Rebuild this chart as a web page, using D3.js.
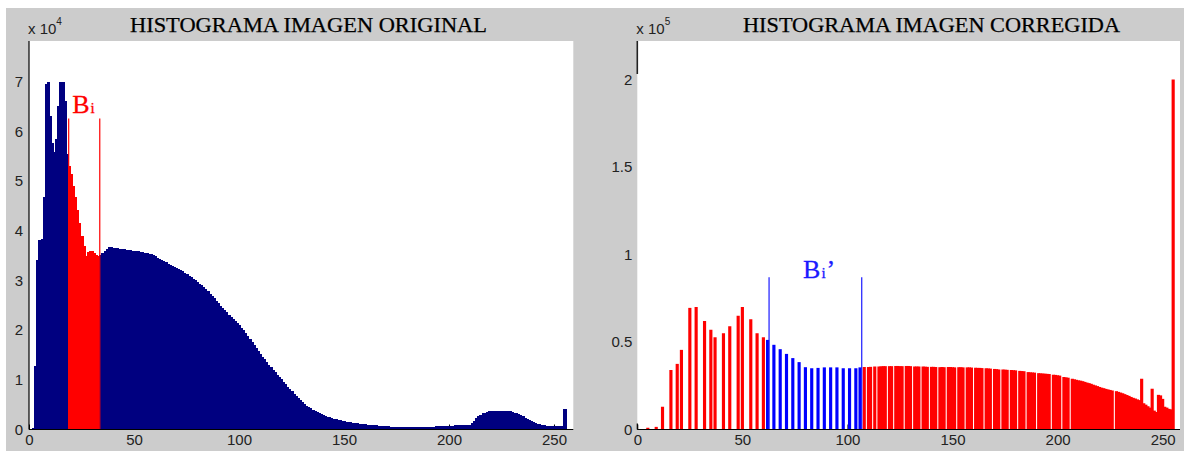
<!DOCTYPE html>
<html><head><meta charset="utf-8">
<script src="https://cdn.jsdelivr.net/npm/d3@7/dist/d3.min.js"></script>
<style>body{margin:0;background:#fff;}svg{display:block;}</style>
</head><body>
<svg id="c" width="1184" height="451"></svg>
<script>
// ---------- DATA ----------
// Original histogram: counts per grey level 0..255, in units of 10^4
const originalCounts = [
  0.02,0.02,0.04,1.28,3.42,3.81,3.83,4.68,6.95,7.0,6.3,5.76,5.59,5.85,6.5,7.0,7.0,6.6,5.55,
  5.3,5.15,4.9,4.68,4.42,4.15,3.9,3.7,3.5,3.58,3.6,3.6,3.55,3.52,3.5,
  3.52,3.55,3.6,3.63,3.67,3.68,3.66,3.66,3.65,3.64,3.63,3.63,3.62,3.62,3.61,3.6,3.6,3.59,3.59,3.58,3.57,3.56,3.55,3.54,3.53,3.51,
  3.49,3.46,3.43,3.41,3.39,3.37,3.34,3.31,3.29,3.27,3.25,3.23,3.21,3.18,3.15,3.12,3.09,3.06,3.03,3.0,
  2.97,2.93,2.9,2.86,2.82,2.78,2.73,2.69,2.64,2.59,2.54,2.49,2.45,2.4,2.36,2.31,2.27,2.23,2.19,2.14,
  2.1,2.05,2.0,1.94,1.88,1.82,1.76,1.7,1.63,1.57,1.52,1.46,1.41,1.36,1.3,1.25,1.2,1.15,1.1,1.05,
  1.01,0.96,0.91,0.86,0.81,0.77,0.72,0.67,0.63,0.59,0.56,0.52,0.48,0.45,0.43,0.4,0.37,0.35,0.33,0.32,
  0.29,0.27,0.26,0.25,0.23,0.22,0.21,0.19,0.19,0.18,0.17,0.16,0.16,0.15,0.14,0.13,0.13,0.12,0.12,0.11,
  0.11,0.1,0.1,0.09,0.09,0.09,0.08,0.08,0.08,0.07,0.07,0.07,
  0.06,0.06,0.06,0.06,0.06,0.05,0.06,0.06,0.05,0.05,0.06,0.05,0.05,0.05,0.05,0.06,0.05,0.05,0.06,0.06,0.06,0.06,0.07,0.07,0.07,
  0.07,0.07,0.08,0.08,0.08,0.08,0.09,0.09,0.09,0.09,0.1,0.1,0.1,
  0.1,0.13,0.18,0.23,0.27,0.3,0.33,0.34,0.36,0.37,0.38,0.38,0.38,0.38,0.38,0.38,0.38,0.38,0.38,
  0.37,0.36,0.34,0.33,0.31,0.29,0.27,0.24,0.22,0.2,0.18,0.16,0.14,0.12,0.11,0.1,0.09,0.08,
  0.07,0.07,0.07,0.07,0.07,0.07,0.07,0.07,0.41
];
const originalBand = [19, 33];          // highlighted bins (red)
const originalMarkers = [18.9, 33.7];   // vertical marker lines
const originalMarkerTop = 6.26;         // x10^4

// Corrected histogram: occupied grey levels and their counts, in units of 10^5
const corrBins = [
  5,9,12,16,19,21,25,28,32,35,37,41,44,48,50,54,57,60,
  62,65,68,71,74,77,80,83,86,89,92,95,98,101,104,106,
  108,110,111,113,115,116,117,118,120,121,
  123,124,125,126,128,129,130,132,133,134,136,137,138,140,141,142,144,145,146,
  148,149,150,151,153,154,155,157,158,159,161,162,163,164,166,167,168,
  170,171,172,174,175,176,178,179,180,182,183,184,186,187,188,189,
  191,192,193,194,195,196,198,199,200,201,203,204,205,
  207,208,209,210,211,212,213,214,215,216,217,218,219,220,221,222,223,224,225,226,
  228,229,230,231,232,233,234,235,236,237,238,239,240,241,242,243,244,245,246,247,
  248,249,250,251,252,253,254,255
];
const corrCounts = [
  0.01,0.015,0.13,0.34,0.375,0.455,0.695,0.70,0.62,0.57,0.527,0.55,0.59,0.65,0.70,0.63,0.55,0.527,
  0.512,0.484,0.459,0.432,0.408,0.385,0.356,0.35,0.352,0.355,0.355,0.355,0.35,0.35,0.35,0.355,
  0.357,0.357,0.358,0.36,0.36,0.361,0.362,0.362,0.362,0.362,
  0.363,0.363,0.362,0.362,0.363,0.363,0.362,0.36,0.36,0.36,0.36,0.359,0.358,0.358,0.358,0.357,0.356,0.357,0.356,
  0.357,0.357,0.356,0.355,0.356,0.356,0.355,0.355,0.355,0.354,0.353,0.352,0.352,0.351,0.35,0.349,0.348,
  0.346,0.345,0.343,0.343,0.342,0.341,0.34,0.339,0.338,0.335,0.334,0.333,0.328,0.327,0.326,0.325,
  0.322,0.321,0.32,0.319,0.318,0.317,0.313,0.312,0.31,0.308,0.3,0.298,0.296,
  0.29,0.287,0.284,0.281,0.279,0.276,0.272,0.268,0.265,0.261,0.256,0.252,0.248,0.243,0.239,0.236,0.232,0.229,0.226,0.223,
  0.219,0.215,0.211,0.207,0.202,0.197,0.192,0.186,0.181,0.177,0.172,0.168,0.29,0.15,0.142,0.133,0.125,0.233,0.108,0.1,
  0.198,0.195,0.175,0.13,0.125,0.118,0.115,2.0
];
const corrBand = [62, 106];             // highlighted bins (blue)
const corrMarkers = [62.7, 106.8];
const corrMarkerTop = 0.87;             // x10^5

const xTicks = [0, 50, 100, 150, 200, 250];
const yTicksOriginal = [0, 1, 2, 3, 4, 5, 6, 7];
const yTicksCorrected = [0, 0.5, 1, 1.5, 2];
const titles = ["HISTOGRAMA IMAGEN ORIGINAL", "HISTOGRAMA IMAGEN CORREGIDA"];
const exponents = ["4", "5"];

// ---------- DRAW ----------
const svg = d3.select("#c");
svg.append("rect").attr("width",1184).attr("height",451).attr("fill","#fff");
svg.append("rect").attr("x",6).attr("y",8).attr("width",1178).attr("height",443).attr("fill","#cccccc");

const SANS = "'Liberation Sans', Arial, sans-serif";
const SERIF = "'Liberation Serif', 'Times New Roman', serif";
const plotTop = 41, plotBottom = 429.5;

function panel(o){
  const g = svg.append("g");
  const x = d3.scaleLinear().domain([0, o.xMax]).range([o.left, o.right]);
  const y = d3.scaleLinear().domain([0, o.yMax]).range([plotBottom, plotTop]);
  g.append("rect").attr("x",o.left).attr("y",plotTop).attr("width",o.right-o.left).attr("height",plotBottom-plotTop).attr("fill","#fff");
  const cid = "clip"+o.id;
  g.append("clipPath").attr("id",cid).append("rect")
    .attr("x",o.left).attr("y",plotTop).attr("width",o.right-o.left).attr("height",plotBottom-plotTop);

  // x axis (ticks inside, under bars)
  const xa = g.append("g").attr("transform",`translate(0,${plotBottom})`)
    .call(d3.axisBottom(x).tickValues(xTicks).tickSizeInner(-5).tickSizeOuter(0).tickPadding(5).tickFormat(d3.format("d")));
  xa.select(".domain").remove();
  xa.selectAll("line").attr("stroke","#000");
  xa.selectAll("text").attr("font-family",SANS).attr("font-size",15).attr("fill","#222");

  const ya = g.append("g").attr("transform",`translate(${o.left},0)`)
    .call(d3.axisLeft(y).tickValues(o.yTicks).tickSize(0).tickPadding(o.yPad).tickFormat(d=>String(d)));
  ya.select(".domain").remove();
  ya.selectAll("text").attr("font-family",SANS).attr("font-size",15).attr("fill","#222");

  // bars
  const bars = g.append("g").attr("clip-path",`url(#${cid})`);
  if (o.crisp) bars.attr("shape-rendering","crispEdges");
  bars.selectAll("rect").data(o.data).join("rect")
    .attr("x",d=>x(d.bin - o.bw/2))
    .attr("width",d=>x(d.bin + o.bw/2) - x(d.bin - o.bw/2) + o.overlap)
    .attr("y",d=>y(d.v))
    .attr("height",d=>plotBottom - y(d.v))
    .attr("fill",d=>(d.bin>=o.band[0] && d.bin<=o.band[1]) ? o.bandColor : o.baseColor);

  // marker lines
  g.selectAll(".mk").data(o.markers).join("line").attr("class","mk")
    .attr("x1",d=>x(d)).attr("x2",d=>x(d))
    .attr("y1",y(o.markerTop)).attr("y2",plotBottom)
    .attr("stroke",o.markerColor).attr("stroke-width",1.2);

  // axis lines
  g.append("line").attr("x1",o.left).attr("x2",o.right).attr("y1",plotBottom).attr("y2",plotBottom)
    .attr("stroke","#000").attr("stroke-width",1.2);
  if (o.fullYAxis){
    g.append("line").attr("x1",o.left).attr("x2",o.left).attr("y1",plotTop).attr("y2",plotBottom)
      .attr("stroke","#000").attr("stroke-width",1.2);
  } else {
    g.append("line").attr("x1",o.left).attr("x2",o.left).attr("y1",plotTop).attr("y2",plotTop+33)
      .attr("stroke","#222").attr("stroke-width",1.6);
    g.append("line").attr("x1",o.left).attr("x2",o.left).attr("y1",plotBottom-6).attr("y2",plotBottom)
      .attr("stroke","#000").attr("stroke-width",1.2);
  }

  // title
  g.append("text").attr("x",o.titleX).attr("y",31.5).attr("text-anchor","middle")
    .attr("font-family",SERIF).attr("font-size",21.5).attr("fill","#000")
    .attr("stroke","#000").attr("stroke-width",0.25)
    .attr("textLength",o.titleW).attr("lengthAdjust","spacingAndGlyphs").text(o.title);
  // exponent label
  const ex = g.append("text").attr("x",o.left-1).attr("y",34).attr("font-family",SANS).attr("font-size",15).attr("fill","#222");
  ex.append("tspan").text("x 10");
  ex.append("tspan").attr("font-size",10).attr("dy",-9).text(o.exp);

  // band label
  const lx = x(o.markers[0]) + o.labelDx;
  const ly = y(o.markerTop) + o.labelDy;
  const lab = g.append("text").attr("x",lx).attr("y",ly).attr("font-family",SERIF).attr("fill",o.markerColor)
    .attr("stroke",o.markerColor).attr("stroke-width",0.3);
  lab.append("tspan").attr("font-size",26).text("B");
  lab.append("tspan").attr("font-size",15).attr("dx",1).text("i");
  if (o.prime) lab.append("tspan").attr("font-size",26).attr("dx",1).text("\u2019");
}

panel({
  id:"L", left:29, right:573.3, xMax:259.2, yMax:388.5/49.7,
  yTicks:yTicksOriginal, yPad:6,
  data: originalCounts.map((v,i)=>({bin:i, v})), bw:1, overlap:1, crisp:true,
  band:originalBand, baseColor:"#000080", bandColor:"#ff0000",
  markers:originalMarkers, markerTop:originalMarkerTop, markerColor:"#ff0000",
  fullYAxis:true, title:titles[0], titleX:308.5, titleW:357, exp:exponents[0],
  labelDx:3.5, labelDy:-5, prime:false
});
panel({
  id:"R", left:637.3, right:1180, xMax:258.25, yMax:388.5/175,
  yTicks:yTicksCorrected, yPad:5,
  data: corrBins.map((b,i)=>({bin:b, v:corrCounts[i]})), bw:1.5, overlap:0, crisp:false,
  band:corrBand, baseColor:"#ff0000", bandColor:"#0000ff",
  markers:corrMarkers, markerTop:corrMarkerTop, markerColor:"#1a1aff",
  fullYAxis:false, title:titles[1], titleX:931.5, titleW:377, exp:exponents[1],
  labelDx:34, labelDy:0.5, prime:true
});
</script>
</body></html>
